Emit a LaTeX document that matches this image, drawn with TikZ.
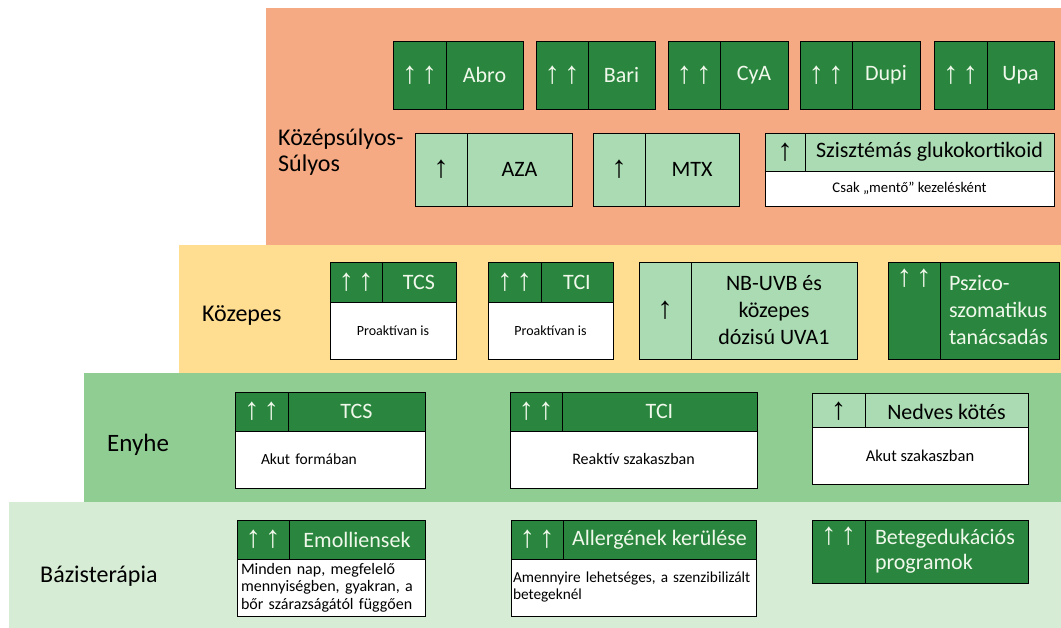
\documentclass[tikz,border=0pt]{standalone}
\usepackage{fontspec}
\setmainfont{Carlito}
\newfontfamily\arrfont{Liberation Sans}
\definecolor{salmon}{RGB}{245,170,131}
\definecolor{yel}{RGB}{255,222,145}
\definecolor{midg}{RGB}{144,205,147}
\definecolor{lightg}{RGB}{214,236,213}
\definecolor{dkg}{RGB}{42,134,62}
\definecolor{ltg}{RGB}{170,219,178}
\definecolor{wtext}{RGB}{240,248,235}
\newcommand\uu{{\arrfont\fontsize{31}{31}\selectfont ↑\kern4pt↑}}
\newcommand\uo{{\arrfont\fontsize{31}{31}\selectfont ↑}}
\newcommand\mybox[6]{\node[#1,minimum width=#4pt,minimum height=#5pt] (#2) at (#3) {#6};}
\tikzset{
 cell/.style={draw=black, line width=0.8pt, anchor=north west, inner sep=0pt, outer sep=0pt, font=\fontsize{22}{26}\selectfont},
 dk/.style={cell, fill=dkg, text=wtext},
 lt/.style={cell, fill=ltg, text=black},
 wb/.style={cell, fill=white, text=black, font=\fontsize{14}{17}\selectfont},
 lvl/.style={anchor=base west, inner sep=0pt, font=\fontsize{24}{27}\selectfont},
 layer/.style={draw=none, anchor=north west, inner sep=0pt, outer sep=0pt},
 toparr/.style={label={[anchor=north, text=wtext, inner sep=0pt, yshift=-7pt]north:\uu}},
}
\begin{document}
\begin{tikzpicture}[x=1pt,y=-1pt]
\useasboundingbox (0,0) rectangle (1061,628);
\fill[white] (0,0) rectangle (1061,628);
% layers
\node[layer, fill=salmon, minimum width=795pt, minimum height=237pt] (L4) at (266,8) {};
\node[layer, fill=yel, minimum width=882pt, minimum height=128pt] (L3) at (179,245) {};
\node[layer, fill=midg, minimum width=977pt, minimum height=129pt] (L2) at (84,373) {};
\node[layer, fill=lightg, minimum width=1052pt, minimum height=126pt] (L1) at (9,502) {};
% level labels
\node[anchor=west, inner sep=0pt, align=left, font=\fontsize{24}{26}\selectfont] (t4) at (278,152) {Középsúlyos-\\Súlyos};
\node[lvl] (t3) at (202,322) {Közepes};
\node[lvl, font=\fontsize{25}{27}\selectfont] (t2) at (107,451) {Enyhe};
\node[lvl] (t1) at (40,582) {Bázisterápia};
% top row
\mybox{dk}{abA}{393,41}{53}{68}{\uu}
\mybox{dk}{abB}{446,41}{77}{68}{Abro}
\mybox{dk}{baA}{536,41}{52}{68}{\uu}
\mybox{dk}{baB}{588,41}{67}{68}{Bari}
\mybox{dk}{cyA}{668,41}{52}{68}{\uu}
\mybox{dk}{cyB}{720,41}{68}{68}{CyA}
\mybox{dk}{duA}{800,41}{52}{68}{\uu}
\mybox{dk}{duB}{852,41}{68}{68}{Dupi}
\mybox{dk}{upA}{934,41}{53}{68}{\uu}
\mybox{dk}{upB}{987,41}{67}{68}{Upa}
% second row
\mybox{lt}{azA}{415,133}{52}{73}{\uo}
\mybox{lt}{azB}{467,133}{105}{73}{AZA}
\mybox{lt}{mtA}{593,133}{52}{73}{\uo}
\mybox{lt}{mtB}{645,133}{94}{73}{MTX}
\mybox{lt}{szA}{765,133}{40}{38}{\uo}
\mybox{lt}{szB}{805,133}{249}{38}{Szisztémás glukokortikoid}
\mybox{wb,font=\fontsize{14.7}{17}\selectfont}{szC}{765,171}{289}{35}{Csak „mentő” kezelésként}
% Kozepes
\mybox{dk}{k1A}{330,262}{52}{40}{\uu}
\mybox{dk}{k1B}{382,262}{74}{40}{TCS}
\mybox{wb}{k1C}{330,302}{126}{57}{Proaktívan is}
\mybox{dk}{k2A}{488,262}{53}{40}{\uu}
\mybox{dk}{k2B}{541,262}{72}{40}{TCI}
\mybox{wb}{k2C}{488,302}{125}{57}{Proaktívan is}
\mybox{lt}{k3A}{639,262}{52}{97}{\uo}
\mybox{lt,align=center,font=\fontsize{22}{27}\selectfont}{k3B}{691,262}{166}{97}{NB-UVB és\\közepes\\dózisú UVA1}
\mybox{dk,toparr}{k4A}{888,262}{52}{97}{}
\mybox{dk,align=left,text width=101pt,inner xsep=9pt,font=\fontsize{22}{27}\selectfont}{k4B}{940,262}{117}{97}{Pszico-\\szomatikus\\tanácsadás}
% Enyhe
\mybox{dk}{e1A}{235,392}{53}{39}{\uu}
\mybox{dk}{e1B}{288,392}{137}{39}{TCS}
\mybox{wb,align=left,text width=138pt,inner xsep=26pt,font=\fontsize{15.5}{18}\selectfont}{e1C}{235,431}{190}{57}{Akut formában}
\mybox{dk}{e2A}{510,392}{52}{39}{\uu}
\mybox{dk}{e2B}{562,392}{195}{39}{TCI}
\mybox{wb,font=\fontsize{16}{18}\selectfont}{e2C}{510,431}{247}{57}{Reaktív szakaszban}
\mybox{lt}{e3A}{812,393}{53}{37}{\uo}
\mybox{lt}{e3B}{865,393}{163}{37}{Nedves kötés}
\mybox{wb,font=\fontsize{16.5}{18}\selectfont,yshift=3pt}{e3C}{812,430}{216}{57}{Akut szakaszban}
% Bazisterapia
\mybox{dk}{b1A}{237,520}{52}{39}{\uu}
\mybox{dk}{b1B}{289,520}{136}{39}{Emolliensek}
\mybox{wb,align=left,text width=180pt,inner xsep=4pt,font=\fontsize{16}{17.5}\selectfont}{b1C}{237,559}{188}{57}{Minden nap, megfelelő\\mennyiségben, gyakran, a\\bőr szárazságától függően}
\mybox{dk}{b2A}{511,520}{52}{39}{\uu}
\mybox{dk}{b2B}{563,520}{193}{39}{Allergének kerülése}
\mybox{wb,align=left,text width=241pt,inner xsep=2pt,font=\fontsize{15.3}{17}\selectfont}{b2C}{511,559}{245}{57}{Amennyire lehetséges, a szenzibilizált\\betegeknél}
\mybox{dk,toparr}{b3A}{812,520}{53}{63}{}
\mybox{dk,align=left,text width=143pt,inner xsep=10pt,font=\fontsize{22}{25}\selectfont}{b3B}{865,520}{163}{63}{Betegedukációs\\programok}
\end{tikzpicture}
\end{document}
